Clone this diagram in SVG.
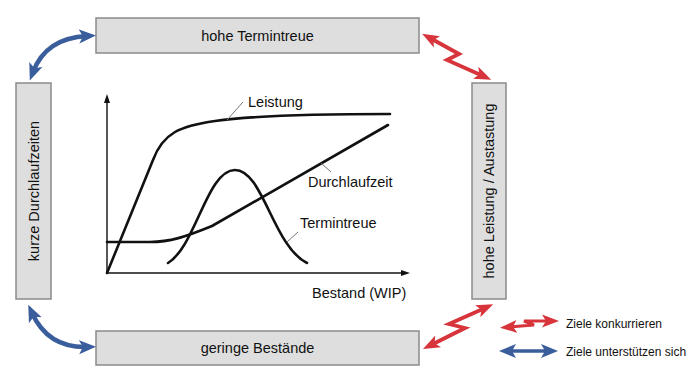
<svg xmlns="http://www.w3.org/2000/svg" width="700" height="385" viewBox="0 0 700 385">
<defs>
<style>
.box{fill:#dedede;stroke:#8a8a8a;stroke-width:1.5}
.lbl{font-family:"Liberation Sans",Arial,sans-serif;font-size:14.5px;fill:#111}
.leg{font-family:"Liberation Sans",Arial,sans-serif;font-size:12px;fill:#111}
.curve{fill:none;stroke:#111;stroke-width:2.6;stroke-linejoin:round;stroke-linecap:round}
.axis{fill:none;stroke:#111;stroke-width:1.4}
.lead{fill:none;stroke:#777;stroke-width:1}
.blue{fill:none;stroke:#3a5d9c;stroke-width:4.5}
.red{fill:none;stroke:#d8343c;stroke-width:3.8;stroke-linejoin:miter}
</style>
<marker id="hb" markerUnits="userSpaceOnUse" markerWidth="18" markerHeight="16" refX="8" refY="8" orient="auto-start-reverse"><path d="M0,1 L17,8 L0,15 L4,8 z" fill="#3a5d9c"/></marker>
<marker id="hr" markerUnits="userSpaceOnUse" markerWidth="18" markerHeight="14" refX="8" refY="7" orient="auto-start-reverse"><path d="M0,0.5 L17,7 L0,13.5 L4,7 z" fill="#d8343c"/></marker>
<marker id="ha" markerUnits="userSpaceOnUse" markerWidth="10" markerHeight="8" refX="2" refY="4" orient="auto"><path d="M0,1 L9,4 L0,7 z" fill="#111"/></marker>
</defs>
<rect width="700" height="385" fill="#fff"/>

<g id="top-box"><rect class="box" x="96" y="18" width="323" height="35"/><text class="lbl" x="257.5" y="41" text-anchor="middle">hohe Termintreue</text></g>
<g id="bottom-box"><rect class="box" x="96" y="331" width="323" height="34"/><text class="lbl" x="257.5" y="353" text-anchor="middle">geringe Bestände</text></g>
<g id="left-box"><rect class="box" x="16" y="83" width="35" height="216"/><text class="lbl" transform="translate(38.5,191) rotate(-90)" text-anchor="middle">kurze Durchlaufzeiten</text></g>
<g id="right-box"><rect class="box" x="472" y="83" width="34" height="216"/><text class="lbl" transform="translate(494,191) rotate(-90)" text-anchor="middle">hohe Leistung / Austastung</text></g>

<g id="chart">
<path class="axis" d="M107,273 V101" marker-end="url(#ha)"/>
<path class="axis" d="M107,273 H403" marker-end="url(#ha)"/>
<path class="curve" d="M107,273 L153,160 C163,133 180,126 215,121 C250,116 300,114 390,114"/>
<path class="curve" d="M107,242 L150,242 C170,242 185,237 212,226 L388,125"/>
<path class="curve" d="M168,263 C196,246 207,170 235,170 C263,170 273,246 307,263"/>
<path class="lead" d="M243,102 L227,120"/>
<path class="lead" d="M321,163 L331,172"/>
<path class="lead" d="M298,232 L287,242"/>
<text class="lbl" x="248" y="107">Leistung</text>
<text class="lbl" x="308" y="187">Durchlaufzeit</text>
<text class="lbl" x="300" y="228">Termintreue</text>
<text class="lbl" x="312" y="298">Bestand (WIP)</text>
</g>

<g id="connectors">
<path class="blue" d="M33,72 Q46,38 87,36" marker-start="url(#hb)" marker-end="url(#hb)"/>
<path class="blue" d="M32,313 Q48,348 87,347" marker-start="url(#hb)" marker-end="url(#hb)"/>
<polyline class="red" points="430,38 459,54 447,60 483,76" marker-start="url(#hr)" marker-end="url(#hr)"/>
<polyline class="red" points="485,308 449,324 465,328 431,345" marker-start="url(#hr)" marker-end="url(#hr)"/>
</g>

<g id="legend">
<polyline class="red" points="509,327 534,325 524,321 550,321" marker-start="url(#hr)" marker-end="url(#hr)" style="stroke-width:3"/>
<path class="blue" d="M508,351 H549" marker-start="url(#hb)" marker-end="url(#hb)" style="stroke-width:3.5"/>
<text class="leg" x="566" y="328">Ziele konkurrieren</text>
<text class="leg" x="566" y="356">Ziele unterstützen sich</text>
</g>
</svg>
